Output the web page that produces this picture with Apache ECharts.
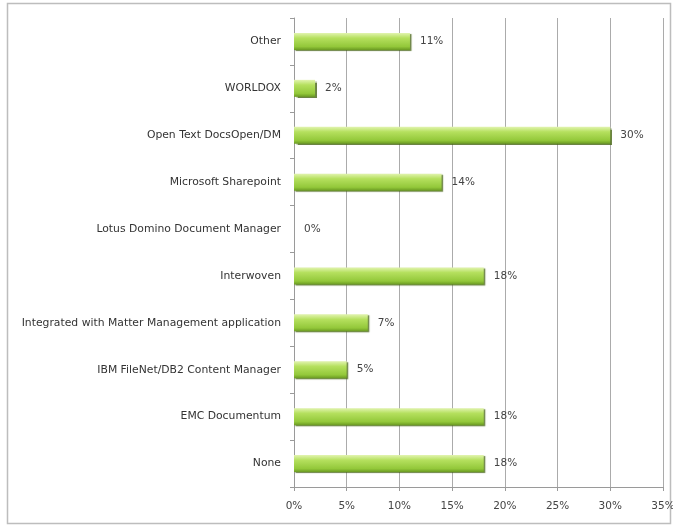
<!DOCTYPE html>
<html><head><meta charset="utf-8">
<script src="https://cdn.jsdelivr.net/npm/echarts@6/dist/echarts.min.js"></script>
<style>html,body{margin:0;padding:0;background:#fff}#c{width:673px;height:527px}</style>
</head><body><div id="c"></div>
<script>
const categories = ["None","EMC Documentum","IBM FileNet/DB2 Content Manager","Integrated with Matter Management application","Interwoven","Lotus Domino Document Manager","Microsoft Sharepoint","Open Text DocsOpen/DM","WORLDOX","Other"];
const values = [18,18,5,7,18,0,14,30,2,11];
const xTicks = [0,5,10,15,20,25,30,35];

const chart = echarts.init(document.getElementById('c'));
chart.setOption({
  animation:false,
  backgroundColor:'#fff',
  graphic:[{type:'rect',shape:{x:7.5,y:3.5,width:663,height:520},style:{fill:'none',stroke:'#bdbdbd',lineWidth:1.5}}],
  grid:{left:294,right:10,top:18,bottom:40,containLabel:false,outerBoundsMode:'none'},
  xAxis:{type:'value',min:0,max:35,interval:5,
    axisLine:{show:true,lineStyle:{color:'#9a9a9a'}},
    axisTick:{show:true,length:4,lineStyle:{color:'#9a9a9a'}},
    splitLine:{show:true,lineStyle:{color:'#ababab',width:1}},
    axisLabel:{formatter:v=>v+'%',color:'#444',fontSize:10.5,fontFamily:'DejaVu Sans',margin:14}},
  yAxis:{type:'category',data:categories,
    axisLine:{show:true,lineStyle:{color:'#9a9a9a'}},
    axisTick:{show:true,length:4,lineStyle:{color:'#9a9a9a'}},
    axisLabel:{color:'#333',fontSize:10.8,fontFamily:'DejaVu Sans',margin:13}},
  series:[{type:'bar',data:values,barWidth:17,
    itemStyle:{color:new echarts.graphic.LinearGradient(0,0,0,1,[
      {offset:0,color:'#e2f4b0'},{offset:0.3,color:'#b5e05e'},{offset:0.8,color:'#93c83a'},{offset:1,color:'#6a9a22'}]),
      borderWidth:0,shadowColor:'rgba(70,100,20,0.8)',shadowOffsetX:1.5,shadowOffsetY:1,shadowBlur:1},
    label:{show:true,position:'right',distance:10,formatter:p=>p.value+'%',color:'#444',fontSize:10.5,fontFamily:'DejaVu Sans'}}]
});
</script></body></html>
